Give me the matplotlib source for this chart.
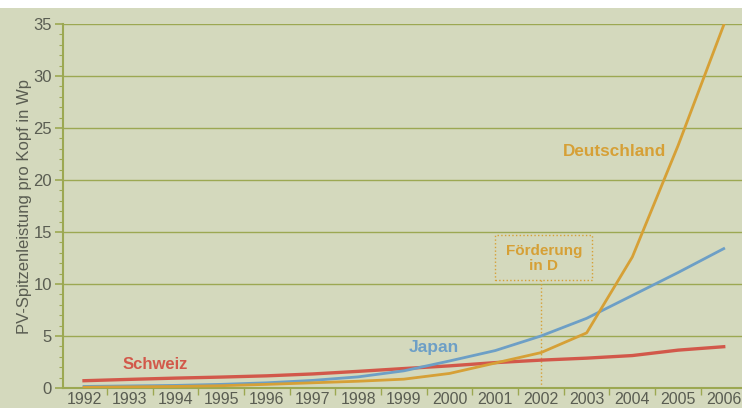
import matplotlib
matplotlib.use('Agg')
import matplotlib.pyplot as plt
from matplotlib.patches import Rectangle
import numpy as np

plt.rcParams['font.family'] = ['Liberation Sans', 'DejaVu Sans']

years = list(range(1992, 2007))
deutschland = [0.07, 0.11, 0.15, 0.22, 0.35, 0.5, 0.65, 0.85, 1.4, 2.4, 3.4, 5.3, 12.6, 23.3, 34.9]
japan = [0.15, 0.2, 0.25, 0.35, 0.5, 0.73, 1.07, 1.65, 2.6, 3.6, 5.0, 6.7, 8.9, 11.1, 13.4]
schweiz = [0.7, 0.83, 0.95, 1.05, 1.17, 1.35, 1.6, 1.87, 2.13, 2.44, 2.68, 2.87, 3.12, 3.64, 3.97]
foerderung_start = 2002

bg = '#d4d9bd'
grid_col = '#9ca852'
txt_col = '#5a5d52'
c_de = '#d6a036'
c_jp = '#6d9fc6'
c_ch = '#d2584a'

fig = plt.figure(figsize=(7.42, 4.08), dpi=100)
fig.patch.set_facecolor(bg)
# white strip at the top of the scan
fig.patches.append(Rectangle((0, 400/408), 1, 8/408, transform=fig.transFigure,
                             facecolor='white', edgecolor='none', zorder=-1))

ax = fig.add_axes([63/742, 20/408, 679/742, 364/408])
ax.set_facecolor(bg)

ax.plot(years, schweiz, color=c_ch, lw=2.4, zorder=3)
ax.plot(years, japan, color=c_jp, lw=2.0, zorder=4)
ax.plot(years, deutschland, color=c_de, lw=2.0, zorder=5)

ax.set_xlim(1991.54, 2006.4)
ax.set_ylim(0, 35)
ax.set_yticks(range(0, 36, 5))
ax.set_yticks(range(0, 36), minor=True)
ax.set_xticks(years)
ax.set_xticks(np.arange(1992.5, 2006, 1), minor=True)
ax.tick_params(axis='x', which='major', length=0, pad=3, labelsize=11.5, labelcolor=txt_col)
ax.tick_params(axis='x', which='minor', length=5, color=grid_col, width=1)
ax.tick_params(axis='y', which='major', length=6, color=grid_col, width=1.2,
               labelsize=12, labelcolor=txt_col, pad=2)
ax.tick_params(axis='y', which='minor', length=3, color=grid_col, width=0.8)

ax.grid(axis='y', which='major', color=grid_col, lw=1.0)
for s in ['top', 'right']:
    ax.spines[s].set_visible(False)
for s in ['left', 'bottom']:
    ax.spines[s].set_color(grid_col)
    ax.spines[s].set_linewidth(1.5)

ax.set_ylabel('PV-Spitzenleistung pro Kopf in Wp', fontsize=12, color=txt_col, labelpad=1)

ax.text(1993.55, 2.3, 'Schweiz', color=c_ch, fontsize=12, fontweight='bold', ha='center', va='center')
ax.text(1999.65, 3.9, 'Japan', color=c_jp, fontsize=12.5, fontweight='bold', ha='center', va='center')
ax.text(2003.62, 22.7, 'Deutschland', color=c_de, fontsize=12.3, fontweight='bold', ha='center', va='center')

# Förderung box (dotted) + dotted marker line
ax.add_patch(Rectangle((2000.99, 10.4), 2.13, 4.3, facecolor='none', edgecolor=c_de,
                       ls=':', lw=1, zorder=2))
ax.text(2002.06, 12.45, 'Förderung\nin D', color=c_de, fontsize=11, fontweight='bold',
        ha='center', va='center', linespacing=1.1)
ax.plot([foerderung_start, foerderung_start], [0, 10.4], color=c_de, ls=':', lw=1, zorder=2)

fig.savefig('out.png', dpi=100, facecolor=fig.get_facecolor())
